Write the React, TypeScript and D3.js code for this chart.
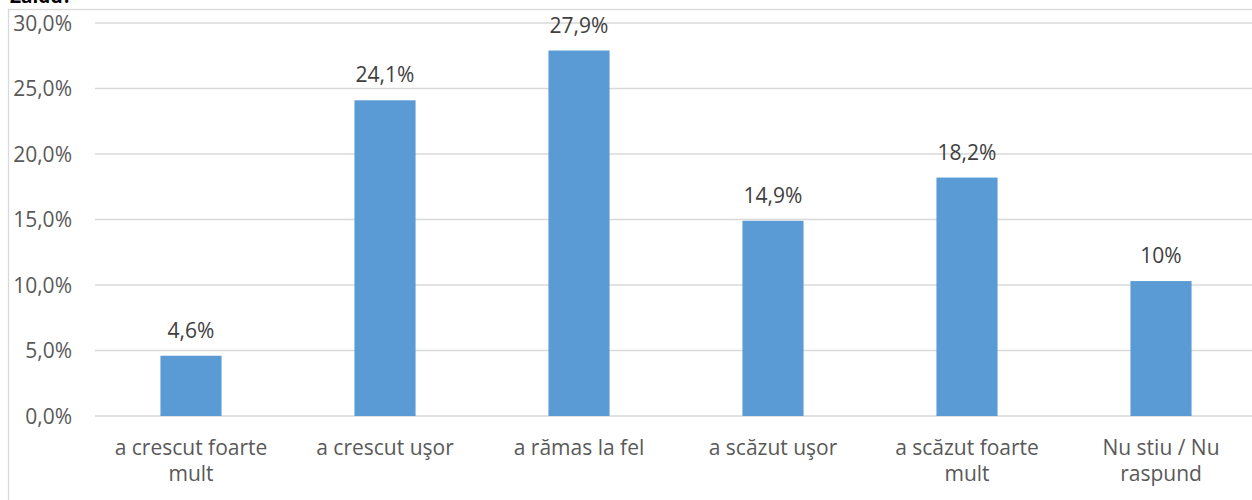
import React from "react";
import * as d3 from "d3";

const categories: string[][] = [
  ["a crescut foarte", "mult"],
  ["a crescut uşor"],
  ["a rămas la fel"],
  ["a scăzut uşor"],
  ["a scăzut foarte", "mult"],
  ["Nu stiu / Nu", "raspund"],
];
const values: number[] = [4.6, 24.1, 27.9, 14.9, 18.2, 10.3];
const valueLabels: string[] = ["4,6%", "24,1%", "27,9%", "14,9%", "18,2%", "10%"];
const yTicks: number[] = [0, 5, 10, 15, 20, 25, 30];

const W = 1252;
const H = 500;
const FONT = "'Open Sans', 'Noto Sans', sans-serif";

export default function App() {
  const x = d3
    .scaleBand<number>()
    .domain(d3.range(categories.length))
    .range([94, 1258])
    .paddingInner(0.685)
    .paddingOuter(0.3425);
  const y = d3.scaleLinear().domain([0, 30]).range([416, 23]);
  const fmt = (v: number) => v.toFixed(1).replace(".", ",") + "%";

  return (
    <svg
      width={W}
      height={H}
      style={{ position: "absolute", left: 0, top: 0, display: "block", background: "#fff" }}
      fontFamily={FONT}
    >
      <text x={10} y={3} fontSize={19} fontWeight="bold" fill="#000">
        Zaidu?
      </text>
      <rect x={8.5} y={9.5} width={W} height={H} fill="none" stroke="#D9D9D9" strokeWidth={1.3} />
      {yTicks.map((t) => (
        <g key={t}>
          <line x1={95} x2={W} y1={y(t)} y2={y(t)} stroke="#D9D9D9" strokeWidth={1.3} />
          <text x={72} y={y(t)} dy="0.36em" textAnchor="end" fontSize={21} fill="#595959">
            {fmt(t)}
          </text>
        </g>
      ))}
      {values.map((v, i) => {
        const bx = x(i)!;
        const bw = x.bandwidth();
        return (
          <g key={i}>
            <rect x={bx} y={y(v)} width={bw} height={y(0) - y(v)} fill="#5B9BD5" />
            <text
              x={bx + bw / 2}
              y={y(v) - 18}
              textAnchor="middle"
              fontSize={21}
              fill="#404040"
            >
              {valueLabels[i]}
            </text>
            {categories[i].map((line, j) => (
              <text
                key={j}
                x={bx + bw / 2}
                y={455 + j * 26}
                textAnchor="middle"
                fontSize={21}
                fill="#595959"
              >
                {line}
              </text>
            ))}
          </g>
        );
      })}
    </svg>
  );
}
